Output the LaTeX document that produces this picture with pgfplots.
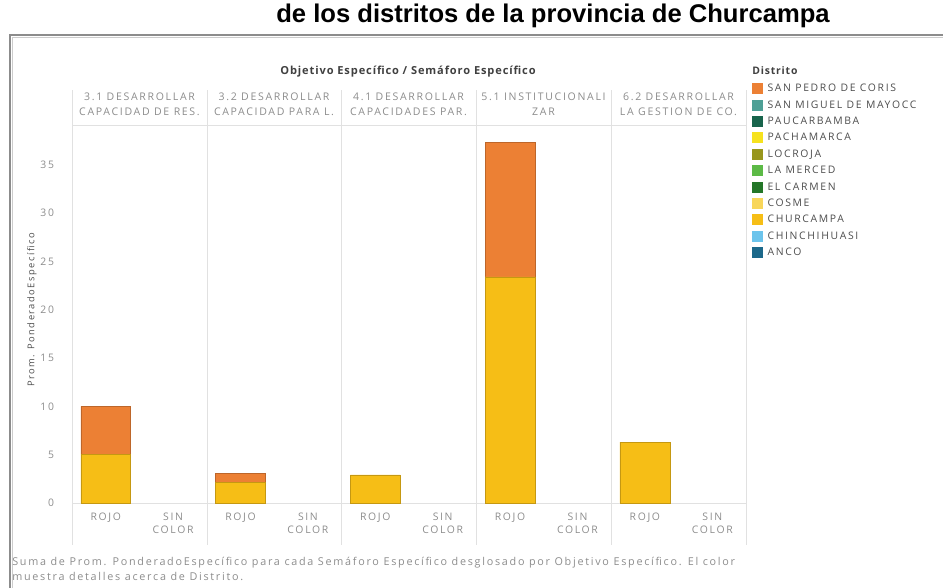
\documentclass[border=0pt]{standalone}
\usepackage{pgfplots}
\pgfplotsset{compat=1.18}
\usepackage{fontspec}
\setmainfont[LetterSpace=16]{Open Sans}
\newfontfamily\hdfont[LetterSpace=8]{Open Sans}
\newfontfamily\titlefont{Liberation Sans}
\definecolor{cSPC}{RGB}{236,128,52}
\definecolor{cSMM}{RGB}{78,160,150}
\definecolor{cPAU}{RGB}{24,100,76}
\definecolor{cPAC}{RGB}{246,226,30}
\definecolor{cLOC}{RGB}{152,150,28}
\definecolor{cLAM}{RGB}{92,186,70}
\definecolor{cELC}{RGB}{36,118,40}
\definecolor{cCOS}{RGB}{248,214,90}
\definecolor{cCHU}{RGB}{246,190,22}
\definecolor{cCHI}{RGB}{108,196,236}
\definecolor{cANC}{RGB}{28,104,138}
\definecolor{txt}{RGB}{140,140,140}
\definecolor{sep}{RGB}{225,225,225}
\begin{document}
\begin{tikzpicture}[x=0.75pt,y=0.75pt]
\useasboundingbox (0,0) rectangle (943,588);
\node[font=\titlefont\bfseries\fontsize{19.2}{21}\selectfont, anchor=base] at (553,565) {de los distritos de la provincia de Churcampa};
\draw[black!45, line width=1.2pt] (10,0) -- (10,553) -- (943,553);
\draw[black!20, line width=0.6pt] (12,0) -- (12,551) -- (943,551);
% separators
\foreach \xx in {72,207,341,476,611,746} {\draw[sep, line width=0.6pt] (\xx,588-90) -- (\xx,588-545);}
\draw[sep, line width=0.6pt] (72,588-125) -- (746,588-125);
\node[font=\hdfont\bfseries\fontsize{8.3}{9}\selectfont, text=black!75] at (408,588-72) {Objetivo Específico / Semáforo Específico};
\foreach \xx/\la/\lb in {139.5/{3.1 DESARROLLAR}/{CAPACIDAD DE RES.}, 274/{3.2 DESARROLLAR}/{CAPACIDAD PARA L.}, 408.5/{4.1 DESARROLLAR}/{CAPACIDADES PAR.}, 543.5/{5.1 INSTITUCIONALI}/{ZAR}, 678.5/{6.2 DESARROLLAR}/{LA GESTION DE CO.}} {
  \node[font=\fontsize{7.9}{9}\selectfont, text=txt] at (\xx,588-97) {\la};
  \node[font=\fontsize{7.9}{9}\selectfont, text=txt] at (\xx,588-112) {\lb};
}
\node[font=\fontsize{7}{8}\selectfont, text=black!70, rotate=90] at (32,588-310) {Prom. PonderadoEspecífico};
\node[font=\fontsize{8.1}{9}\selectfont, text=txt, anchor=base west, inner sep=0] at (12,588-566) {Suma de Prom. PonderadoEspecífico para cada Semáforo Específico desglosado por Objetivo Específico. El color};
\node[font=\fontsize{8.1}{9}\selectfont, text=txt, anchor=base west, inner sep=0] at (12,588-581) {muestra detalles acerca de Distrito.};
\node[font=\hdfont\bfseries\fontsize{7.8}{9}\selectfont, text=black!75, anchor=west, inner sep=0] at (752,588-71) {Distrito};
\begin{axis}[
  at={(54pt,63.75pt)}, anchor=south west, scale only axis,
  width=505.5pt, height=283.5pt,
  ybar stacked, bar width=0.74,
  xmin=-0.5, xmax=9.5, ymin=0, ymax=39.1,
  clip=false,
  axis line style={draw=none}, major tick length=0pt,
  xtick={0,...,9},
  xticklabels={ROJO,SIN\\COLOR,ROJO,SIN\\COLOR,ROJO,SIN\\COLOR,ROJO,SIN\\COLOR,ROJO,SIN\\COLOR},
  xticklabel style={align=center, font=\fontsize{7.8}{9.8}\selectfont, text=txt, yshift=-4pt},
  ytick={0,5,...,35},
  yticklabel style={font=\fontsize{7.8}{8}\selectfont, text=txt, xshift=-10pt},
  /pgf/number format/assume math mode=true,
  legend style={at={(1.009,1.112)}, anchor=north west, draw=none, fill=none,
    font=\fontsize{7.8}{8}\selectfont, text=black!70, row sep=3.6pt, inner sep=0pt,
    nodes={inner sep=0.6pt, text height=6pt, text depth=1.5pt}},
  legend cell align=left,
  legend image code/.code={\path[draw=none, fill=none] (0pt,0pt) -- (10.8pt,0pt); \fill[#1, draw=none] (0pt,-4.1pt) rectangle (8.2pt,4.1pt);},
]
\addlegendimage{fill=cSPC, draw=none}
\addlegendimage{fill=cSMM, draw=none}
\addlegendimage{fill=cPAU, draw=none}
\addlegendimage{fill=cPAC, draw=none}
\addlegendimage{fill=cLOC, draw=none}
\addlegendimage{fill=cLAM, draw=none}
\addlegendimage{fill=cELC, draw=none}
\addlegendimage{fill=cCOS, draw=none}
\addlegendimage{fill=cCHU, draw=none}
\addlegendimage{fill=cCHI, draw=none}
\addlegendimage{fill=cANC, draw=none}
\legend{SAN PEDRO DE CORIS,SAN MIGUEL DE MAYOCC,PAUCARBAMBA,PACHAMARCA,LOCROJA,LA MERCED,EL CARMEN,COSME,CHURCAMPA,CHINCHIHUASI,ANCO}
\addplot+[forget plot, fill=cCHU, draw=cCHU!80!black, line width=0.3pt] coordinates {(0,5) (2,2.1) (4,2.9) (6,23.4) (8,6.3)};
\addplot+[forget plot, fill=cSPC, draw=cSPC!80!black, line width=0.3pt] coordinates {(0,5) (2,1.0) (4,0) (6,13.9) (8,0)};
\draw[sep, line width=0.6pt] (axis cs:-0.5,0) -- (axis cs:9.5,0);
\end{axis}
\end{tikzpicture}
\end{document}
